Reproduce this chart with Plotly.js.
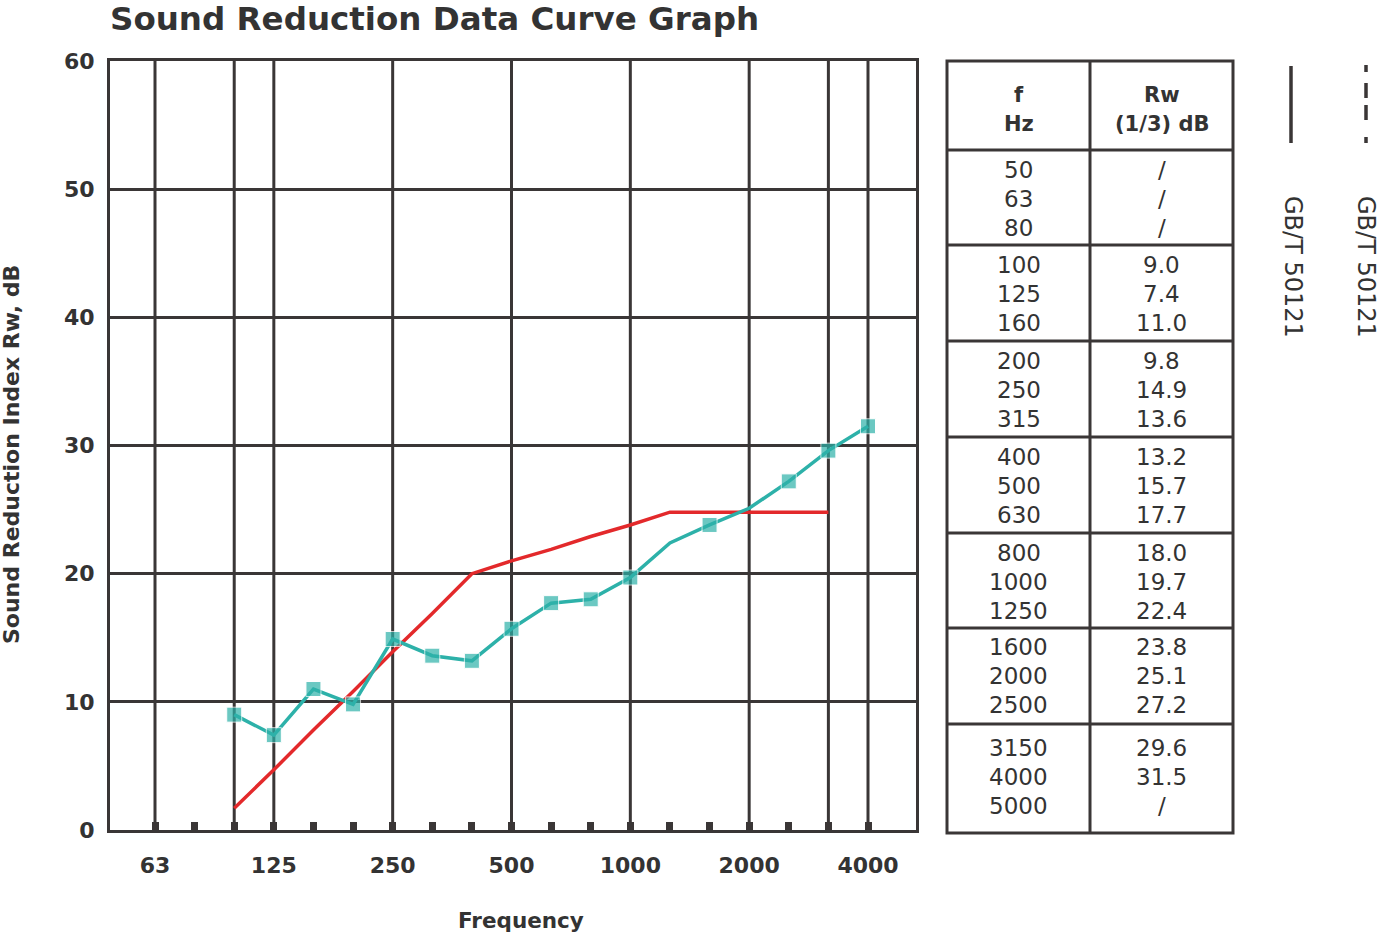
<!DOCTYPE html>
<html>
<head>
<meta charset="utf-8">
<script src="https://cdn.plot.ly/plotly-3.0.1.min.js"></script>
<style>html,body{margin:0;padding:0;background:#fff;}#chart{width:1381px;height:943px;}</style>
</head>
<body>
<div id="chart"></div>
<script>
// ---- data ----
const bands = ['63','80','100','125','160','200','250','315','400','500','630','800','1000','1250','1600','2000','2500','3150','4000'];
const labeledBands = ['63','125','250','500','1000','2000','4000'];
const gridBands = ['63','100','125','250','500','1000','2000','3150','4000'];

const measuredFreq = ['100','125','160','200','250','315','400','500','630','800','1000','1250','1600','2000','2500','3150','4000'];
const measuredRw = [9.0, 7.4, 11.0, 9.8, 14.9, 13.6, 13.2, 15.7, 17.7, 18.0, 19.7, 22.4, 23.8, 25.1, 27.2, 29.6, 31.5];
const unmarkedFreq = ['1250','2000'];

const refFreq = ['100','125','160','200','250','315','400','500','630','800','1000','1250','1600','2000','2500','3150'];
const refRw = [1.7, 4.7, 7.8, 10.8, 13.9, 16.9, 20.0, 21.0, 21.9, 22.9, 23.8, 24.8, 24.8, 24.8, 24.8, 24.8];

const tableHeadF = ['f', 'Hz'];
const tableHeadRw = ['Rw', '(1/3) dB'];
const tableFreq = ['50','63','80','100','125','160','200','250','315','400','500','630','800','1000','1250','1600','2000','2500','3150','4000','5000'];
const tableRw = ['/','/','/','9.0','7.4','11.0','9.8','14.9','13.6','13.2','15.7','17.7','18.0','19.7','22.4','23.8','25.1','27.2','29.6','31.5','/'];

const legendLabel = 'GB/T 50121';
const chartTitle = 'Sound Reduction Data Curve Graph';
const xTitle = 'Frequency';
const yTitle = 'Sound Reduction Index Rw, dB';

// ---- helpers ----
const idx = f => bands.indexOf(f);
const INK = '#3a3636';
const TEXT = '#333333';
const FONT = 'DejaVu Sans, sans-serif';
const L = 110, R = 916, T = 61, B = 830;
const px = x => (x - L) / (R - L);
const py = y => (B - y) / (B - T);

const traces = [
  {
    x: refFreq.map(idx), y: refRw, type: 'scatter', mode: 'lines',
    line: {color: '#e3292b', width: 3.5}, hoverinfo: 'skip', showlegend: false
  },
  {
    x: measuredFreq.map(idx), y: measuredRw, type: 'scatter', mode: 'lines+markers',
    line: {color: '#2db1a9', width: 3.5},
    marker: {symbol: 'square', color: '#2db1a9',
      size: measuredFreq.map(f => unmarkedFreq.includes(f) ? 0 : 15)},
    showlegend: false
  }
];

const shapes = [];
gridBands.forEach(f => {
  shapes.push({type: 'line', xref: 'x', yref: 'paper', x0: idx(f), x1: idx(f), y0: 0, y1: 1,
    line: {color: INK, width: 3}, layer: 'below'});
});

// table frame
const tblL = 947, tblR = 1233, tblMid = 1090, tblT = 61, tblB = 833;
const rowLines = [150, 245, 341, 437, 533, 628, 724];
shapes.push({type: 'rect', xref: 'paper', yref: 'paper', x0: px(tblL), x1: px(tblR), y0: py(tblT), y1: py(tblB),
  line: {color: INK, width: 3}});
shapes.push({type: 'line', xref: 'paper', yref: 'paper', x0: px(tblMid), x1: px(tblMid), y0: py(tblT), y1: py(tblB),
  line: {color: INK, width: 3}});
rowLines.forEach(y => shapes.push({type: 'line', xref: 'paper', yref: 'paper', x0: px(tblL), x1: px(tblR), y0: py(y), y1: py(y),
  line: {color: INK, width: 3}}));

// legend lines
shapes.push({type: 'line', xref: 'paper', yref: 'paper', x0: px(1291), x1: px(1291), y0: py(66), y1: py(143),
  line: {color: INK, width: 3.5}});
shapes.push({type: 'line', xref: 'paper', yref: 'paper', x0: px(1366), x1: px(1366), y0: py(65), y1: py(143),
  line: {color: INK, width: 3.5, dash: '7px,11px,15px,7px,15px,17px,6px'}});

const annotations = [];
const addText = (text, x, y, size, bold, extra) => annotations.push(Object.assign({
  xref: 'paper', yref: 'paper', x: px(x), y: py(y), xanchor: 'center', yanchor: 'middle',
  text: text, showarrow: false,
  font: {family: FONT, size: size, color: TEXT, weight: bold ? 'bold' : 'normal'}
}, extra || {}));

const colF = (tblL + tblMid) / 2, colR = (tblMid + tblR) / 2;
const LINE = 29;
tableHeadF.forEach((t, i) => addText(t, colF, 95 + i * LINE, 21, true));
tableHeadRw.forEach((t, i) => addText(t, colR, 95 + i * LINE, 21, true));
const rowCenters = [199, 294, 390, 486, 582, 676, 777];
rowCenters.forEach((yc, r) => {
  for (let k = 0; k < 3; k++) {
    addText(tableFreq[r * 3 + k], colF, yc + (k - 1) * LINE, 23, false);
    addText(tableRw[r * 3 + k], colR, yc + (k - 1) * LINE, 23, false);
  }
});
[1293, 1366].forEach(xc => addText(legendLabel, xc, 267, 24, false, {textangle: 90}));

// axis titles
addText(xTitle, 521, 920, 21.5, true);
addText(yTitle, 12, 455, 22, true, {textangle: -90});

const layout = {
  width: 1381, height: 943,
  margin: {l: L, r: 1381 - R, t: T, b: 943 - B, pad: 0},
  paper_bgcolor: '#fff', plot_bgcolor: '#fff',
  title: {text: chartTitle, x: L / 1381, xanchor: 'left', xref: 'container',
    y: 1 - 19 / 943, yanchor: 'middle', yref: 'container',
    font: {family: FONT, size: 32.5, color: TEXT, weight: 'bold'}},
  xaxis: {
    range: [-45 / 39.61, 18 + 48 / 39.61], autorange: false, fixedrange: true,
    tickmode: 'array', tickvals: bands.map(idx),
    ticktext: bands.map(b => labeledBands.includes(b) ? b : ''),
    ticks: 'inside', ticklen: 8, tickwidth: 7, tickcolor: INK,
    showgrid: false, zeroline: false,
    showline: true, linecolor: INK, linewidth: 3, mirror: true,
    ticklabelstandoff: 14,
    tickfont: {family: FONT, size: 22, color: TEXT, weight: 'bold'}
  },
  yaxis: {
    range: [0, 60], autorange: false, fixedrange: true,
    tickmode: 'linear', tick0: 0, dtick: 10, ticks: '',
    showgrid: true, gridcolor: INK, gridwidth: 3, zeroline: false,
    showline: true, linecolor: INK, linewidth: 3, mirror: true,
    ticklabelstandoff: 8,
    tickfont: {family: FONT, size: 22, color: TEXT, weight: 'bold'}
  },
  shapes: shapes,
  annotations: annotations,
  showlegend: false
};

Plotly.newPlot('chart', traces, layout, {displayModeBar: false, staticPlot: true});
</script>
</body>
</html>
